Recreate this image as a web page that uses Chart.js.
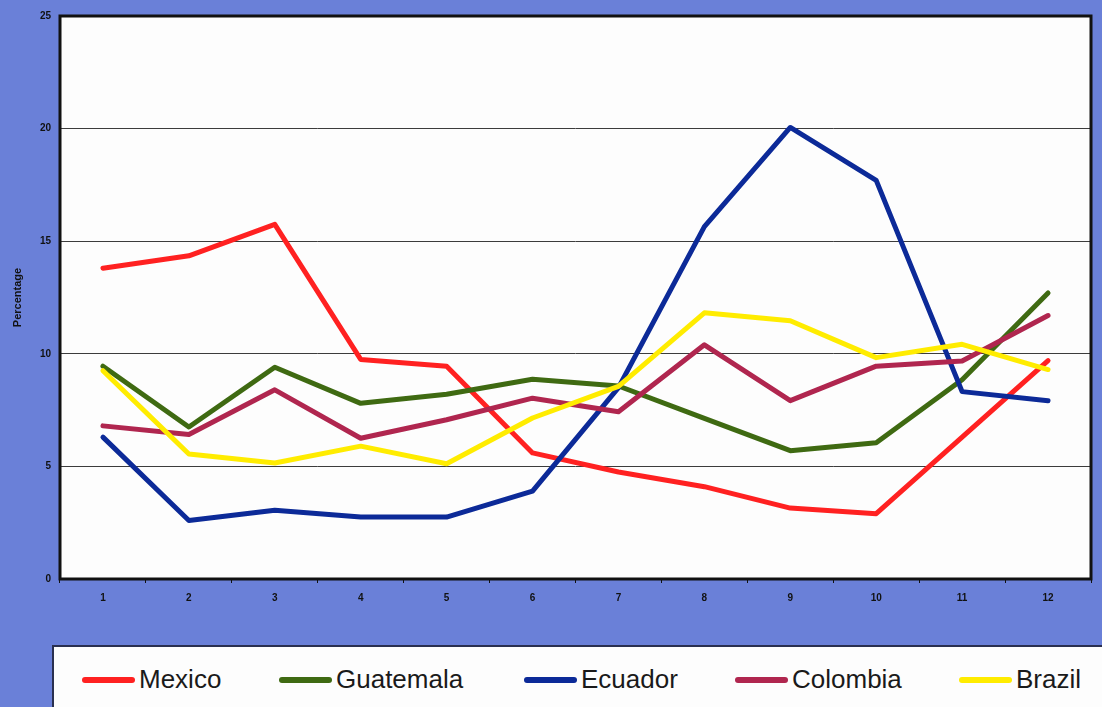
<!DOCTYPE html>
<html>
<head>
<meta charset="utf-8">
<script src="https://cdn.jsdelivr.net/npm/chart.js@4/dist/chart.umd.min.js"></script>
<style>
  html, body { margin: 0; padding: 0; }
  body { width: 1102px; height: 707px; overflow: hidden; background: #6a80d8; font-family: "Liberation Sans", Arial, sans-serif; }
  #wrap { position: relative; width: 1102px; height: 707px; }
  #legend {
    position: absolute; left: 52px; top: 645px; width: 1060px; height: 70px;
    background: #fdfdfd; border-top: 2px solid #2a3050; border-left: 2px solid #2a3050;
    box-sizing: border-box;
  }
  .item { position: absolute; top: 17px; display: flex; align-items: center; font-size: 26px; color: #1a1a1a; white-space: nowrap; }
  .item i { display: inline-block; width: 53px; height: 6px; border-radius: 3px; margin-right: 4px; }
</style>
</head>
<body>
<div id="wrap">
  <canvas id="chart" width="1102" height="707"></canvas>
  <div id="legend"></div>
</div>
<script>
const months = ["1", "2", "3", "4", "5", "6", "7", "8", "9", "10", "11", "12"];
const yTicks = [0, 5, 10, 15, 20, 25];
const countries = ["Mexico", "Guatemala", "Ecuador", "Colombia", "Brazil"];
const colors = ["#ff2121", "#3f6a12", "#0c2a98", "#b0264f", "#ffec00"];
const mexico = [13.8, 14.35, 15.75, 9.75, 9.45, 5.6, 4.75, 4.1, 3.15, 2.9, 6.3, 9.7];
const guatemala = [9.45, 6.75, 9.4, 7.8, 8.2, 8.87, 8.57, 7.13, 5.7, 6.05, 8.85, 12.7];
const ecuador = [6.3, 2.6, 3.05, 2.75, 2.75, 3.9, 8.5, 15.65, 20.05, 17.7, 8.32, 7.92];
const colombia = [6.8, 6.42, 8.4, 6.25, 7.07, 8.03, 7.43, 10.4, 7.92, 9.45, 9.68, 11.7];
const brazil = [9.25, 5.55, 5.15, 5.9, 5.12, 7.15, 8.55, 11.82, 11.47, 9.83, 10.42, 9.3];

const series = [mexico, guatemala, ecuador, colombia, brazil];
// legend item left edges
const legendX = [28, 225, 470, 681, 905];

const plotBox = {
  id: "plotBox",
  beforeDraw(chart) {
    const a = chart.chartArea, ctx = chart.ctx;
    ctx.save();
    ctx.fillStyle = "#fdfdfd";
    ctx.fillRect(a.left, a.top, a.right - a.left, a.bottom - a.top);
    ctx.restore();
  },
  afterDraw(chart) {
    const a = chart.chartArea, ctx = chart.ctx;
    ctx.save();
    ctx.strokeStyle = "#111";
    ctx.lineWidth = 3;
    ctx.strokeRect(a.left, a.top, a.right - a.left, a.bottom - a.top);
    ctx.restore();
  }
};

const ctx = document.getElementById("chart").getContext("2d");
new Chart(ctx, {
  type: "line",
  data: {
    labels: months,
    datasets: series.map((d, i) => ({
      label: countries[i],
      data: d,
      borderColor: colors[i],
      backgroundColor: colors[i],
      borderWidth: 5,
      pointRadius: 0,
      tension: 0,
      borderCapStyle: "round",
      borderJoinStyle: "round",
      order: series.length - i
    }))
  },
  options: {
    responsive: false,
    animation: false,
    layout: { padding: { top: 16, right: 11, bottom: 88, left: 0 } },
    plugins: { legend: { display: false }, tooltip: { enabled: false } },
    scales: {
      x: {
        offset: true,
        grid: { display: true, drawOnChartArea: false, offset: true, color: "#111", tickLength: 4 },
        border: { display: false },
        ticks: { color: "#111", padding: 9, font: { family: "Liberation Sans", size: 10, weight: "bold" } },
        afterFit(s) { s.height = 40; }
      },
      y: {
        min: 0, max: 25,
        afterBuildTicks(s) { s.ticks = yTicks.map(v => ({ value: v })); },
        grid: { color: "#3c3c3c", lineWidth: 1, drawTicks: false },
        border: { display: false },
        ticks: { color: "#111", padding: 9, font: { family: "Liberation Sans", size: 10, weight: "bold" } },
        title: { display: true, text: "Percentage", color: "#111", padding: { top: 11, bottom: 0 }, font: { family: "Liberation Sans", size: 11, weight: "bold" } },
        afterFit(s) { s.width = 60; }
      }
    }
  },
  plugins: [plotBox]
});

const legend = document.getElementById("legend");
countries.forEach((name, i) => {
  const el = document.createElement("div");
  el.className = "item";
  el.style.left = legendX[i] + "px";
  el.innerHTML = '<i style="background:' + colors[i] + '"></i><span>' + name + '</span>';
  legend.appendChild(el);
});
</script>
</body>
</html>
